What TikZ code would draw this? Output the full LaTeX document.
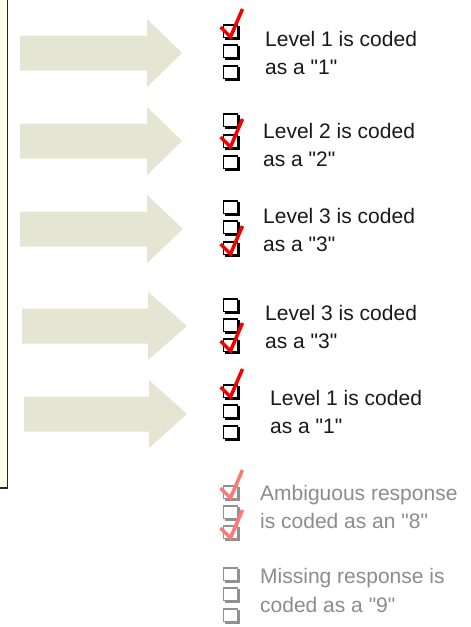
\documentclass[tikz,border=0pt]{standalone}
\usepackage{fontspec}
\newfontfamily\labfont{Liberation Sans}
\usetikzlibrary{calc}
\definecolor{arrowfill}{RGB}{229,229,212}
\definecolor{cream}{RGB}{255,255,232}
\definecolor{txt}{RGB}{25,25,25}
\definecolor{gtxt}{RGB}{140,140,140}
\definecolor{chk}{RGB}{245,0,0}
\definecolor{gchk}{RGB}{255,118,118}
\definecolor{gbox}{RGB}{145,145,145}
\tikzset{
  bigarrow/.style={fill=arrowfill, draw=none},
  lbl/.style={anchor=base west, inner sep=0pt, font=\labfont\fontsize{21}{25}\selectfont, text=txt},
  glbl/.style={lbl, text=gtxt},
  boxk/.style={draw=black, fill=white, line width=1.7pt, minimum width=14pt, minimum height=12.5pt, inner sep=0pt, anchor=north west},
  boxg/.style={boxk, draw=gbox},
  chkline/.style={line width=3.5pt, line join=miter, line cap=butt},
}
\newcommand\ckmark[2]{%
  \draw[chkline, #2] ($(#1.north west)+(-2,3)$) -- ($(#1.north west)+(8,13)$) -- ($(#1.north west)+(20,-15)$);
}
\newcommand\bigarr[4]{% left x, centre y, head start x, tip x
  \fill[bigarrow] (#1,#2-17.5) -- (#3,#2-17.5) -- (#3,#2-34) -- (#4,#2) -- (#3,#2+34) -- (#3,#2+17.5) -- (#1,#2+17.5) -- cycle;
}
% #1 name, #2 top y, #3 shadow colour, #4 style
\newcommand\ckbox[4]{%
  \fill[#3] (224.5,#2+2) rectangle (240,#2+15.5);
  \node[#4] (#1) at (222.5,#2) {};
}
\begin{document}
\begin{tikzpicture}[x=1pt,y=-1pt]
\useasboundingbox (0,0) rectangle (471,627);
\fill[white] (0,0) rectangle (471,627);
% left panel edge
\fill[cream] (0,0) rectangle (7.5,488);
\draw[line width=1.8pt, black!85] (7.5,-1) -- (7.5,488) -- (-1,488);
% arrows
\bigarr{20}{53}{147}{182}
\bigarr{20}{141}{147}{182}
\bigarr{20}{229}{147}{183}
\bigarr{22}{326}{148}{187}
\bigarr{24}{414}{149}{187}
% group 1
\ckbox{a1}{24}{black}{boxk}
\ckbox{a2}{44}{black}{boxk}
\ckbox{a3}{65}{black}{boxk}
\ckmark{a1}{chk}
\node[lbl] (ta1) at (265,46) {Level 1 is coded};
\node[lbl] (ta2) at (265,74) {as a "1"};
% group 2
\ckbox{b1}{113}{black}{boxk}
\ckbox{b2}{134}{black}{boxk}
\ckbox{b3}{155}{black}{boxk}
\ckmark{b2}{chk}
\node[lbl] (tb1) at (263,138) {Level 2 is coded};
\node[lbl] (tb2) at (263,166.5) {as a "2"};
% group 3
\ckbox{c1}{200}{black}{boxk}
\ckbox{c2}{220}{black}{boxk}
\ckbox{c3}{241}{black}{boxk}
\ckmark{c3}{chk}
\node[lbl] (tc1) at (263,223) {Level 3 is coded};
\node[lbl] (tc2) at (263,251.5) {as a "3"};
% group 4
\ckbox{d1}{298}{black}{boxk}
\ckbox{d2}{318}{black}{boxk}
\ckbox{d3}{338}{black}{boxk}
\ckmark{d3}{chk}
\node[lbl] (td1) at (265,320) {Level 3 is coded};
\node[lbl] (td2) at (265,348) {as a "3"};
% group 5
\ckbox{e1}{384}{black}{boxk}
\ckbox{e2}{404}{black}{boxk}
\ckbox{e3}{425}{black}{boxk}
\ckmark{e1}{chk}
\node[lbl] (te1) at (270,405) {Level 1 is coded};
\node[lbl] (te2) at (270,433) {as a "1"};
% group 6 (grey)
\ckbox{f1}{485}{gbox}{boxg}
\ckbox{f2}{505}{gbox}{boxg}
\ckbox{f3}{525}{gbox}{boxg}
\ckmark{f1}{gchk}
\ckmark{f3}{gchk}
\node[glbl] (tf1) at (260,500) {Ambiguous response};
\node[glbl] (tf2) at (260,528) {is coded as an "8"};
% group 7 (grey)
\ckbox{g1}{567}{gbox}{boxg}
\ckbox{g2}{587}{gbox}{boxg}
\ckbox{g3}{608}{gbox}{boxg}
\node[glbl] (tg1) at (260,583) {Missing response is};
\node[glbl] (tg2) at (260,612) {coded as a "9"};
\end{tikzpicture}
\end{document}
